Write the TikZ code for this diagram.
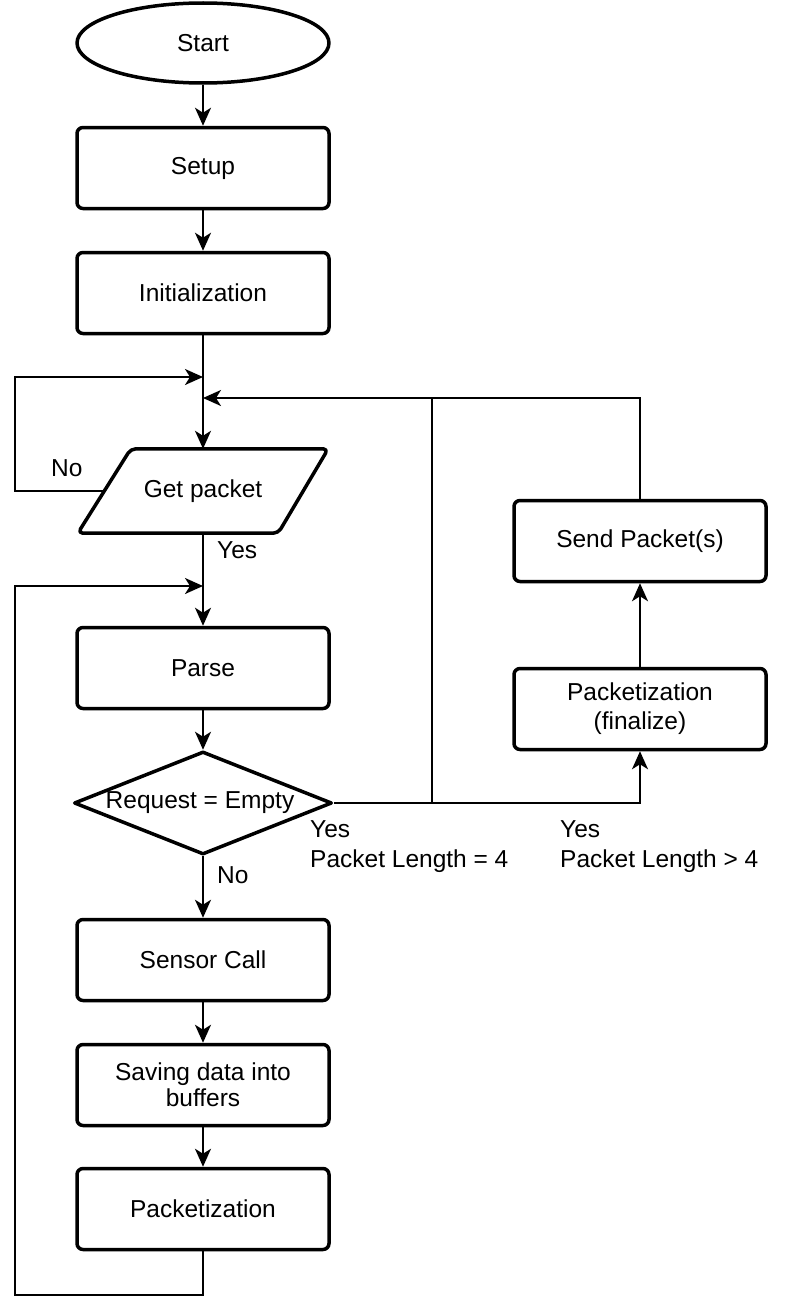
\documentclass[tikz,border=0pt]{standalone}
\usepackage{fontspec}
\setmainfont{Liberation Sans}
\usetikzlibrary{shapes.geometric,arrows.meta}
\begin{document}
\begin{tikzpicture}[x=1pt,y=-1pt,
  every node/.style={font=\fontsize{24.5}{30}\selectfont},
  boxline/.style={line width=3.5pt, line join=round},
  procbox/.style={boxline, draw, rectangle, rounded corners=6pt, minimum width=252pt, minimum height=81pt, inner sep=0pt, align=center, fill=white},
  termbox/.style={boxline, draw, ellipse, minimum width=252pt, minimum height=80pt, inner sep=0pt},
  decbox/.style={boxline, draw, diamond, minimum width=258pt, minimum height=103pt, inner sep=0pt},
  plainlbl/.style={inner sep=0pt, align=left, anchor=west},
  conn/.style={line width=2pt, line join=miter},
  arr/.style={conn, -{Stealth[length=18pt, width=16pt, inset=5pt]}}
]
\useasboundingbox (0,0) rectangle (787,1314);

\node[termbox] (start) at (203,43) {Start};
\node[procbox] (setup) at (203,168) {Setup};
\node[procbox] (init) at (203,293) {Initialization};

\node[minimum width=200pt, minimum height=84pt, inner sep=0pt] (gp) at (203,491) {Get packet};
\draw[boxline, rounded corners=5pt]
  ([xshift=-25pt]gp.south west) -- ([xshift=28pt]gp.north west) --
  ([xshift=25pt]gp.north east) -- ([xshift=-25pt]gp.south east) -- cycle;

\node[procbox] (parse) at (203,668) {Parse};
\node[decbox] (dec) at (203,803) {};
\node[inner sep=0pt] (dectext) at (200,803) {Request = Empty};
\node[procbox] (sensor) at (203,960) {Sensor Call};
\node[procbox, align=center] (save) at (203,1085) {Saving data into\\[-4pt]buffers};
\node[procbox] (pk) at (203,1209) {Packetization};

\node[procbox] (send) at (640,541) {Send Packet(s)};
\node[procbox, align=center] (fin) at (640,709) {Packetization\\[-1pt](finalize)};

% labels
\node[plainlbl] (lno1) at (51,468) {No};
\node[plainlbl] (lyes1) at (217,550) {Yes};
\node[plainlbl] (lno2) at (217,875) {No};
\node[plainlbl, align=left] (lyes2) at (310,847) {Yes\\[0pt]Packet Length = 4};
\node[plainlbl, align=left] (lyes3) at (560,847) {Yes\\[0pt]Packet Length > 4};

% coordinates
\coordinate (m1) at (203,377);
\coordinate (m2) at (203,398);
\coordinate (m3) at (203,586);
\coordinate (l1t) at (15,377);
\coordinate (l2b) at (15,1295);
\coordinate (l2t) at (15,586);
\coordinate (pkb) at (203,1295);
\coordinate (j1) at (432,803);
\coordinate (j1t) at (432,398);
\coordinate (r2) at (640,398);

% connectors
\draw[arr] (start) -- (setup);
\draw[arr] (setup) -- (init);
\draw[arr] (init) -- (gp.north);
\draw[arr] (gp.west) -- (l1t |- gp.west) -- (l1t) -- (m1);
\draw[arr] (gp.south) -- (parse);
\draw[arr] (pk.south) -- (pkb) -- (l2b) -- (l2t) -- (m3);
\draw[arr] (parse) -- (dec);
\draw[arr] (dec) -- (sensor);
\draw[arr] (sensor) -- (save);
\draw[arr] (save) -- (pk);
\draw[arr] (dec.east) -- (fin.south |- dec.east) -- (fin.south);
\draw[arr] (fin) -- (send);
\draw[arr] (send.north) -- (r2) -- (m2);
\draw[conn] (j1) -- (j1t);
\end{tikzpicture}
\end{document}
